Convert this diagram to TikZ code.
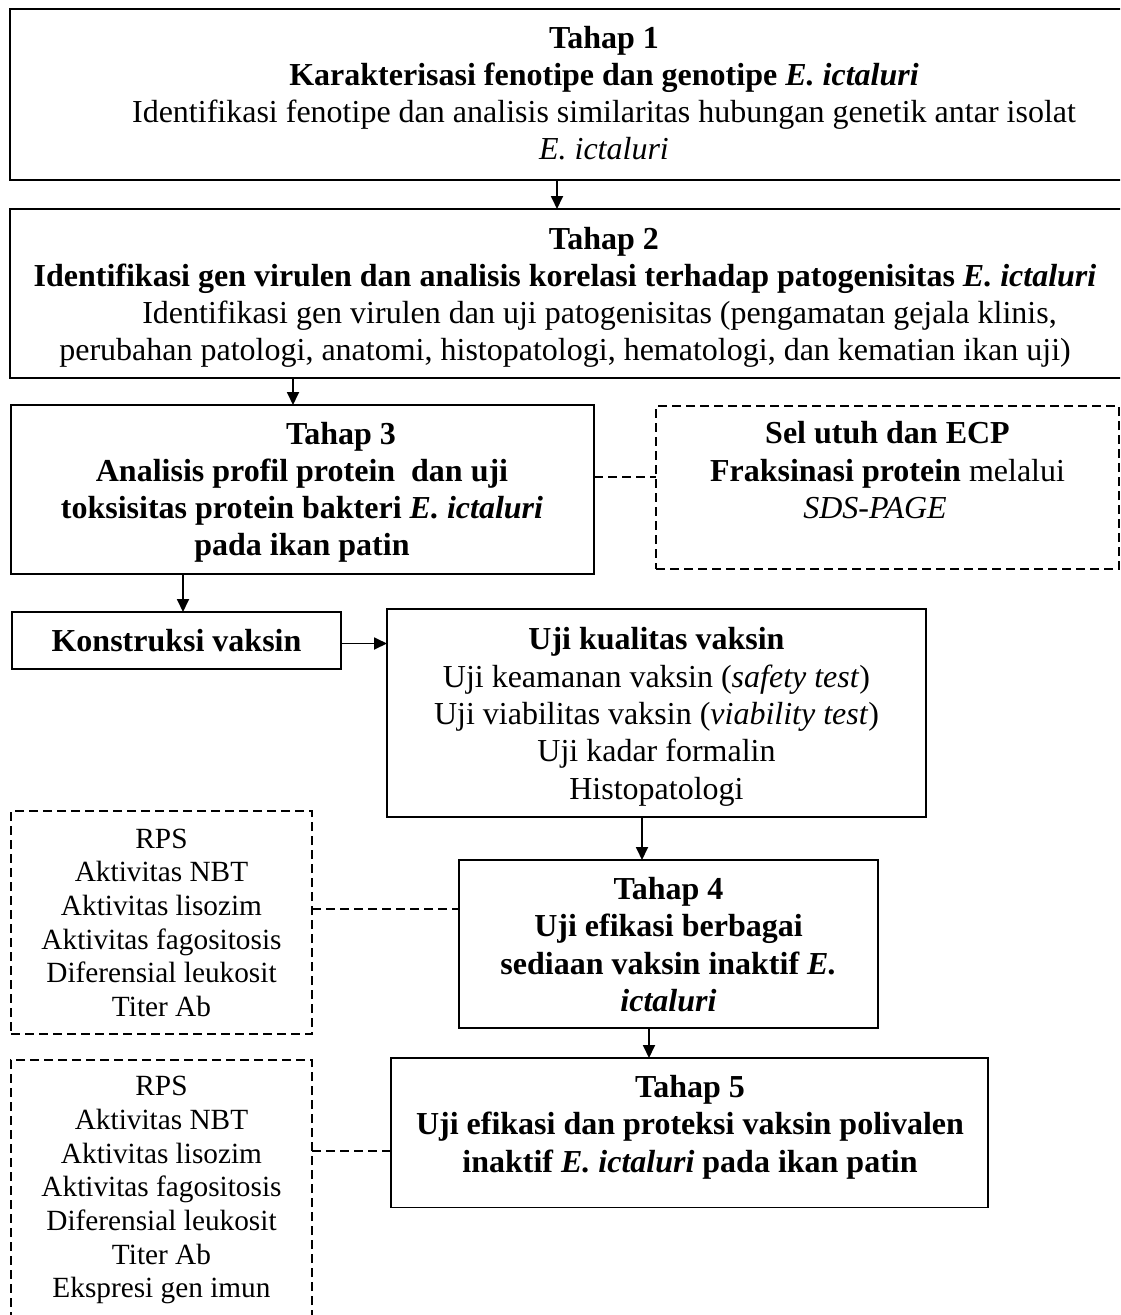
\documentclass[tikz,border=0pt]{standalone}
\usepackage{fontspec}
\setmainfont{Liberation Serif}
\usetikzlibrary{arrows.meta}
\begin{document}
\begin{tikzpicture}[x=1pt,y=-1pt,
  boxr/.style={draw, line width=1.8pt, inner sep=0pt, outer sep=0pt, rectangle},
  dboxr/.style={boxr, line width=1.6pt, dash pattern=on 9pt off 5pt},
  big/.style={inner sep=0pt, outer sep=0pt, align=center, font=\fontsize{32}{37.3}\selectfont},
  small/.style={inner sep=0pt, outer sep=0pt, align=center, font=\fontsize{29.3}{33.7}\selectfont},
  arr/.style={line width=1.8pt, -{Triangle[length=13pt,width=12pt]}},
  dcon/.style={line width=1.6pt, dash pattern=on 9pt off 5pt}]
\clip (0,0) rectangle (1120,1315);
\fill[white] (0,0) rectangle (1120,1315);

% boxes
\node[boxr, minimum width=1188pt, minimum height=171pt] (b1) at (604,94.5) {};
\node[boxr, minimum width=1188pt, minimum height=169pt] (b2) at (604,293.5) {};
\node[boxr, minimum width=583pt, minimum height=169pt] (b3) at (302.5,489.5) {};
\node[dboxr, minimum width=463pt, minimum height=163pt] (ecp) at (887.5,487.5) {};
\node[boxr, minimum width=329pt, minimum height=57pt] (kons) at (176.5,640.5) {};
\node[boxr, minimum width=539pt, minimum height=208pt] (uji) at (656.5,713) {};
\node[boxr, minimum width=419pt, minimum height=168pt] (t4) at (668.5,944) {};
\node[boxr, minimum width=597pt, minimum height=149.5pt] (t5) at (689.5,1132.75) {};
\node[dboxr, minimum width=301pt, minimum height=223pt] (dA) at (161.5,922.5) {};
\node[dboxr, minimum width=301pt, minimum height=280pt] (dB) at (161.5,1200) {};

% texts
\node[big] (t1txt) at (604,96.5) {\strut\textbf{Tahap 1}\\
\strut\textbf{Karakterisasi fenotipe dan genotipe \textit{E. ictaluri}}\\
\strut Identifikasi fenotipe dan analisis similaritas hubungan genetik antar isolat\\
\strut\textit{E. ictaluri}};
\node[big] (t2txt) at (565,297.5) {\strut\hspace*{78pt}\textbf{Tahap 2}\\
\strut\textbf{Identifikasi gen virulen dan analisis korelasi terhadap patogenisitas \textit{E. ictaluri}}\\
\strut\hspace*{69pt}Identifikasi gen virulen dan uji patogenisitas (pengamatan gejala klinis,\\
\strut perubahan patologi, anatomi, histopatologi, hematologi, dan kematian ikan uji)};
\node[big] (t3txt) at (302,492.5) {\strut\hspace*{78pt}\textbf{Tahap 3}\\
\strut\textbf{Analisis profil protein\ \ dan uji}\\
\strut\textbf{toksisitas protein bakteri \textit{E. ictaluri}}\\
\strut\textbf{pada ikan patin}};
\node[big] (ecptxt) at (887.5,473.8) {\strut\textbf{Sel utuh dan ECP}\\
\strut\textbf{Fraksinasi protein} melalui\\
\strut\textit{SDS-PAGE}\hspace*{25pt}};
\node[big] (konstxt) at (176.5,644.5) {\strut\textbf{Konstruksi vaksin}};
\node[big] (ujitxt) at (656.5,717.1) {\strut\textbf{Uji kualitas vaksin}\\
\strut Uji keamanan vaksin (\textit{safety test})\\
\strut Uji viabilitas vaksin (\textit{viability test})\\
\strut Uji kadar formalin\\
\strut Histopatologi};
\node[big] (t4txt) at (668.5,948) {\strut\textbf{Tahap 4}\\
\strut\textbf{Uji efikasi berbagai}\\
\strut\textbf{sediaan vaksin inaktif \textit{E.}}\\
\strut\textbf{\textit{ictaluri}}};
\node[big] (t5txt) at (690,1127.3) {\strut\textbf{Tahap 5}\\
\strut\textbf{Uji efikasi dan proteksi vaksin polivalen}\\
\strut\textbf{inaktif \textit{E. ictaluri} pada ikan patin}};
\node[small] (dAtxt) at (161.5,925.5) {\strut RPS\\
\strut Aktivitas NBT\\
\strut Aktivitas lisozim\\
\strut Aktivitas fagositosis\\
\strut Diferensial leukosit\\
\strut Titer Ab};
\node[small] (dBtxt) at (161.5,1190) {\strut RPS\\
\strut Aktivitas NBT\\
\strut Aktivitas lisozim\\
\strut Aktivitas fagositosis\\
\strut Diferensial leukosit\\
\strut Titer Ab\\
\strut Ekspresi gen imun};

% connector guide coordinates
\coordinate (cx1) at (557,0);
\coordinate (cx2) at (293,0);
\coordinate (cx3) at (183,0);
\coordinate (cx4) at (642,0);
\coordinate (cx5) at (649,0);
\coordinate (cy1) at (0,643.5);
\coordinate (cy2) at (0,477);
\coordinate (cy3) at (0,909);
\coordinate (cy4) at (0,1151);

\draw[arr] (b1.south -| cx1) -- (b2.north -| cx1);
\draw[arr] (b2.south -| cx2) -- (b3.north -| cx2);
\draw[arr] (b3.south -| cx3) -- (kons.north -| cx3);
\draw[arr] (kons.east |- cy1) -- (uji.west |- cy1);
\draw[arr] (uji.south -| cx4) -- (t4.north -| cx4);
\draw[arr] (t4.south -| cx5) -- (t5.north -| cx5);
\draw[dcon] (b3.east |- cy2) -- (ecp.west |- cy2);
\draw[dcon] (dA.east |- cy3) -- (t4.west |- cy3);
\draw[dcon] (dB.east |- cy4) -- (t5.west |- cy4);
\end{tikzpicture}
\end{document}
